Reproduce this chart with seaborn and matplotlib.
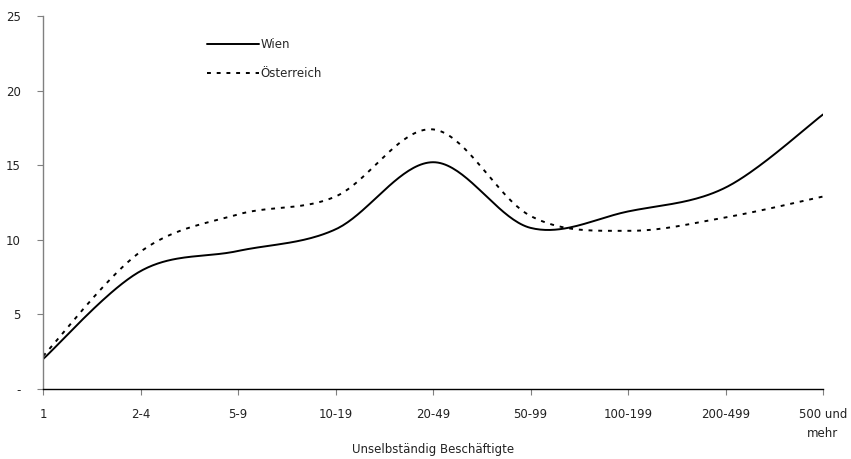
import numpy as np
import pandas as pd
import matplotlib
matplotlib.use("Agg")
import matplotlib.pyplot as plt
import seaborn as sns

categories = ["1", "2-4", "5-9", "10-19", "20-49", "50-99", "100-199", "200-499", "500 und\nmehr"]
wien = [2.0, 7.9, 9.25, 10.7, 15.2, 10.8, 11.9, 13.5, 18.4]
oesterreich = [2.2, 9.2, 11.7, 12.9, 17.4, 11.6, 10.6, 11.5, 12.9]
yticks = [0, 5, 10, 15, 20, 25]
yticklabels = ["-", "5", "10", "15", "20", "25"]


def smooth(xs, ys, n=40):
    # Excel-style smoothed line (Catmull-Rom Bezier through the data points)
    xs = np.asarray(xs, float)
    ys = np.asarray(ys, float)
    P = np.column_stack([xs, ys])
    out = []
    for i in range(len(P) - 1):
        p0 = P[i - 1] if i > 0 else P[i]
        p1 = P[i]
        p2 = P[i + 1]
        p3 = P[i + 2] if i + 2 < len(P) else P[i + 1]
        c1 = p1 + (p2 - p0) / 6.0
        c2 = p2 - (p3 - p1) / 6.0
        t = np.linspace(0, 1, n, endpoint=(i == len(P) - 2))[:, None]
        seg = (1 - t) ** 3 * p1 + 3 * (1 - t) ** 2 * t * c1 + 3 * (1 - t) * t ** 2 * c2 + t ** 3 * p2
        out.append(seg)
    out = np.vstack(out)
    return out[:, 0], out[:, 1]


sns.set_theme(style="white")
plt.rcParams["font.family"] = ["DejaVu Sans"]

x = np.arange(len(categories))
xw, yw = smooth(x, wien)
xo, yo = smooth(x, oesterreich)
df = pd.concat([
    pd.DataFrame({"x": xw, "y": yw, "Serie": "Wien"}),
    pd.DataFrame({"x": xo, "y": yo, "Serie": "Österreich"}),
])

fig = plt.figure(figsize=(8.51, 4.59), dpi=100)
ax = fig.add_axes([43 / 851, 1 - 389 / 459, (823 - 43) / 851, (389 - 16) / 459])

sns.lineplot(data=df, x="x", y="y", hue="Serie", style="Serie",
             palette={"Wien": "black", "Österreich": "black"},
             dashes={"Wien": "", "Österreich": (2, 3)},
             linewidth=1.4, sort=False, estimator=None, ax=ax)

ax.set_xlim(0, len(categories) - 1)
ax.set_ylim(0, 25)
ax.set_xticks(x)
ax.set_xticklabels(categories, fontsize=8.5, color="#222222", linespacing=1.6)
ax.set_yticks(yticks)
ax.set_yticklabels(yticklabels, fontsize=8.5, color="#222222")
ax.set_xlabel("Unselbständig Beschäftigte", fontsize=8.5, color="#222222", labelpad=1.5)
ax.set_ylabel("")

for s in ["top", "right"]:
    ax.spines[s].set_visible(False)
ax.spines["left"].set_color("#808080")
ax.spines["left"].set_linewidth(1.0)
ax.spines["bottom"].set_color("black")
ax.spines["bottom"].set_linewidth(1.0)
ax.tick_params(axis="y", left=True, direction="out", length=4, width=0.8, color="#808080", pad=12)
ax.tick_params(axis="x", bottom=True, direction="out", length=4, width=0.8, color="#808080", pad=10)
ax.grid(False)

leg = ax.legend(loc="upper left", bbox_to_anchor=(0.197, 0.97), frameon=False,
                fontsize=8.5, handlelength=4.4, handletextpad=0.1, labelspacing=1.35)
leg.set_title(None)

fig.savefig("out.png", dpi=100)
